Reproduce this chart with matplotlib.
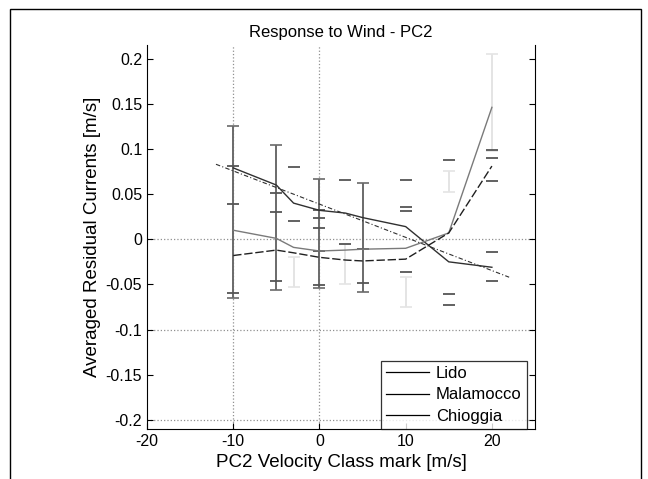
import numpy as np
import matplotlib.pyplot as plt
from matplotlib.lines import Line2D
from matplotlib.patches import Rectangle

plt.rcParams['font.family'] = ['Liberation Sans', 'DejaVu Sans']
plt.rcParams['axes.unicode_minus'] = False

# class marks of PC2 velocity [m/s]
x_class = [-10, -5, -3, 0, 3, 5, 10, 15, 20]

# averaged residual currents [m/s]
lido = [0.079, 0.060, 0.040, 0.032, 0.029, 0.024, 0.014, -0.025, -0.031]
malamocco = [0.010, 0.001, -0.009, -0.013, -0.012, -0.011, -0.010, 0.007, 0.146]
chioggia = [-0.018, -0.012, -0.015, -0.020, -0.023, -0.024, -0.022, 0.007, 0.081]

# linear trend line
fit_x = [-12, 22]
fit_y = [0.083, -0.042]

# dark error bars (low / high)
dark_x = [-10, -5, 0, 5]
dark_lo = [-0.065, -0.056, -0.054, -0.058]
dark_hi = [0.125, 0.104, 0.067, 0.062]

# light error bars (low / high)
light_x = [-3, 3, 10, 15, 20]
light_lo = [-0.053, -0.049, -0.075, 0.052, 0.098]
light_hi = [-0.020, -0.005, -0.042, 0.075, 0.205]

# other error bar caps
cap_x = [-10, -10, -10, -5, -5, -5, -3, -3, 0, 0, 0, 0, 0, 3, 3, 5, 5,
         10, 10, 10, 10, 15, 15, 15, 20, 20, 20, 20, 20]
cap_y = [0.081, 0.039, -0.060, 0.051, 0.030, -0.046, 0.080, 0.020,
         0.032, 0.023, 0.013, -0.013, -0.051, 0.066, -0.005, -0.011, -0.048,
         0.066, 0.036, 0.031, -0.036, 0.088, -0.061, -0.073,
         0.099, 0.090, 0.064, -0.014, -0.046]

fig = plt.figure(figsize=(6.48, 4.79), dpi=100)
fig.patches.append(Rectangle((10/648, -0.05), 631/648, 1 - 9/479 + 0.05,
                             transform=fig.transFigure, fill=False,
                             edgecolor='black', linewidth=1.0))
ax = fig.add_axes([147/648, 1 - 429/479, 388/648, 384/479])

# reference lines
for yy in [0, -0.1, -0.2]:
    ax.axhline(yy, color='#909090', linestyle=':', linewidth=0.9, zorder=1)
for xx in [-10, 0]:
    ax.axvline(xx, color='#909090', linestyle=':', linewidth=0.9, zorder=1)

dm = (np.array(dark_lo) + np.array(dark_hi)) / 2
ax.errorbar(dark_x, dm, yerr=[dm - np.array(dark_lo), np.array(dark_hi) - dm],
            fmt='none', ecolor='#6a6a6a', elinewidth=1.4, capsize=4, capthick=1.2, zorder=2)
lm = (np.array(light_lo) + np.array(light_hi)) / 2
ax.errorbar(light_x, lm, yerr=[lm - np.array(light_lo), np.array(light_hi) - lm],
            fmt='none', ecolor='#e4e4e4', elinewidth=1.4, capsize=4, capthick=1.2, zorder=2)
ax.plot(cap_x, cap_y, linestyle='none', marker='_', markersize=9,
        markeredgewidth=1.3, color='#555555', zorder=2)

ax.plot(x_class, lido, color='#303030', linewidth=1.0, zorder=3)
ax.plot(x_class, malamocco, color='#7a7a7a', linewidth=1.0, zorder=3)
ax.plot(x_class, chioggia, color='#202020', linestyle=(0, (6, 2)), linewidth=1.0, zorder=3)
ax.plot(fit_x, fit_y, color='#303030', linestyle=(0, (4, 2, 1, 2)), linewidth=0.8, zorder=3)

ax.set_xlim(-20, 25)
ax.set_ylim(-0.21, 0.215)
ax.set_xticks([-20, -10, 0, 10, 20])
ax.set_yticks(np.arange(-0.2, 0.201, 0.05))
ax.set_yticklabels(['-0.2', '-0.15', '-0.1', '-0.05', '0', '0.05', '0.1', '0.15', '0.2'])
ax.tick_params(direction='in', right=True, labelsize=11.5, length=4)
ax.spines['top'].set_visible(False)

ax.set_title('Response to Wind - PC2', fontsize=12, pad=6)
ax.set_xlabel('PC2 Velocity Class mark [m/s]', fontsize=13.5, labelpad=4)
ax.set_ylabel('Averaged Residual Currents [m/s]', fontsize=13.5, labelpad=3)

handles = [Line2D([], [], color='black', linewidth=0.9) for _ in range(3)]
leg = ax.legend(handles, ['Lido', 'Malamocco', 'Chioggia'], loc='lower right',
                bbox_to_anchor=(0.979, 0.0), borderaxespad=0.0,
                fontsize=12, frameon=True, fancybox=False, handlelength=2.6,
                handletextpad=0.4, labelspacing=0.4, borderpad=0.3)
leg.get_frame().set_edgecolor('black')
leg.get_frame().set_linewidth(0.9)

fig.savefig('out.png', dpi=100)
